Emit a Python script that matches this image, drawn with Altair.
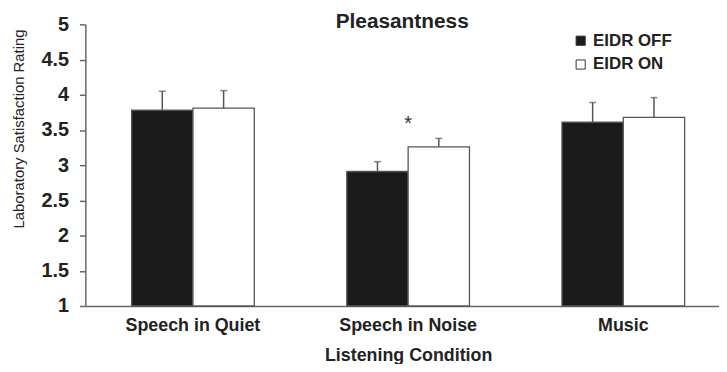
import altair as alt
import pandas as pd

conditions = ["Speech in Quiet", "Speech in Noise", "Music"]
series = ["EIDR OFF", "EIDR ON"]
off_means = [3.78, 2.91, 3.61]
on_means = [3.81, 3.26, 3.68]
off_errors = [0.27, 0.14, 0.28]
on_errors = [0.25, 0.12, 0.28]
sig_conditions = ["Speech in Noise"]
sig_positions = [3.64]
sig_labels = ["*"]
y_ticks = [1, 1.5, 2, 2.5, 3, 3.5, 4, 4.5, 5]

rows = []
for i, c in enumerate(conditions):
    rows.append({"cond": c, "series": series[0], "mean": off_means[i], "top": off_means[i] + off_errors[i]})
    rows.append({"cond": c, "series": series[1], "mean": on_means[i], "top": on_means[i] + on_errors[i]})
df = pd.DataFrame(rows)
sig = pd.DataFrame({"cond": sig_conditions, "pos": sig_positions, "label": sig_labels})

FONT = "Liberation Sans"
Y_TITLE = "Laboratory Satisfaction Rating"
X_TITLE = "Listening Condition"

xscale = alt.Scale(domain=conditions, range=[0, 651], paddingInner=0.43, paddingOuter=0.215)
xaxis = alt.Axis(ticks=False, labelAngle=0, labelFontSize=18, labelFontWeight="bold",
                 labelColor="#222", labelPadding=11, titleFontSize=18, titleFontWeight="bold",
                 titleColor="#222", titlePadding=12, titleX=325.5, domainColor="#666",
                 domainWidth=1.5, grid=False)
yscale = alt.Scale(domain=[1, 5], nice=False, zero=False)
yaxis = alt.Axis(values=y_ticks, format="~g", labelFontSize=20, labelFontWeight="bold",
                 labelColor="#222", labelPadding=11, tickSize=6, tickColor="#666", tickWidth=1.5,
                 domainColor="#666", domainWidth=1.5, grid=False, titleFontSize=15,
                 titleFontWeight="normal", titleColor="#222", titleX=-67, titleY=105,
                 titleAlign="center", titleBaseline="middle")

def X():
    return alt.X("cond:N", sort=conditions, scale=xscale, axis=xaxis, title=X_TITLE)

def XO():
    return alt.XOffset("series:N", sort=series, scale=alt.Scale(domain=series, paddingInner=0, paddingOuter=0))

def Y(field):
    return alt.Y(field, scale=yscale, axis=yaxis, title=Y_TITLE)

base = alt.Chart(df)

bars = base.mark_bar(stroke="#555", strokeWidth=1.3).encode(
    x=X(), xOffset=XO(), y=Y("mean:Q"), y2=alt.datum(1),
    fill=alt.Fill("series:N", sort=series,
                  scale=alt.Scale(domain=series, range=["#1a1a1a", "#ffffff"]),
                  legend=alt.Legend(title=None, orient="none", legendX=491, legendY=8,
                                    symbolType="square", symbolSize=85, symbolStrokeColor="#333",
                                    symbolStrokeWidth=1, labelFontSize=17, labelFontWeight="bold",
                                    labelColor="#222", labelOffset=4, rowPadding=6)),
)

err = base.mark_rule(color="#555", strokeWidth=1.5).encode(
    x=X(), xOffset=XO(), y=Y("mean:Q"), y2="top:Q"
)

caps = base.mark_tick(color="#555", thickness=1.5, size=7).encode(
    x=X(), xOffset=XO(), y=Y("top:Q")
)

star = alt.Chart(sig).mark_text(fontSize=20, baseline="middle", dy=4, color="#333").encode(
    x=X(), y=Y("pos:Q"), text="label:N"
)

chart = alt.layer(bars, err, caps, star).properties(
    width=639, height=284,
    title=alt.TitleParams("Pleasantness", fontSize=21, fontWeight="bold", anchor="middle",
                          color="#222", offset=-18, font=FONT),
    autosize=alt.AutoSizeParams(type="none"),
    padding={"left": 78, "top": 15, "right": 0, "bottom": 57},
).configure(font=FONT).configure_view(stroke=None)

chart.save("out.html", embed_options={"renderer": "svg", "actions": False})
